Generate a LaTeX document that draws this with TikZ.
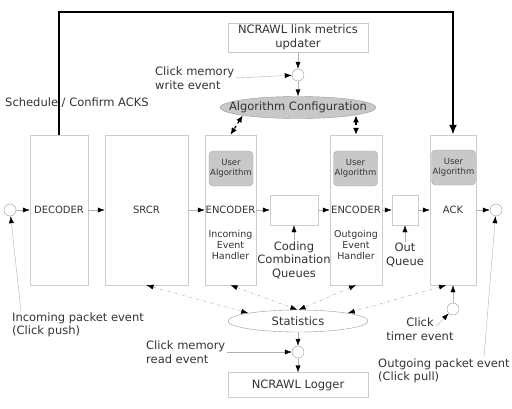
\documentclass[tikz,border=0pt]{standalone}
\usepackage{fontspec}
\setmainfont{DejaVu Sans}
\usetikzlibrary{arrows.meta,shapes.geometric,calc}
\definecolor{boxline}{HTML}{CCCCCC}
\definecolor{algfill}{HTML}{C8C8C8}
\definecolor{txt}{HTML}{333333}
\tikzset{
	blk/.style={draw=boxline, fill=white, inner sep=0pt, text=txt, font=\fontsize{10}{12}\selectfont},
	ualg/.style={draw=gray!70, fill=algfill, rounded corners=4pt, minimum width=44pt, minimum height=35pt, inner sep=0pt, align=center, text=txt, font=\fontsize{8.5}{10}\selectfont},
	evt/.style={circle, draw=gray!80, fill=white, minimum size=12pt, inner sep=0pt},
	lbl/.style={text=txt, inner sep=1pt, font=\fontsize{11.5}{13.5}\selectfont},
	hdl/.style={text=txt, align=center, inner sep=0pt, font=\fontsize{9.5}{11}\selectfont},
	flow/.style={draw=gray!60, -{Latex[length=7pt,width=5pt,color=black]}},
	cfg/.style={line width=1.2pt, dashed, {Latex[length=7pt,width=6pt]}-{Latex[length=7pt,width=6pt]}},
	stat/.style={draw=gray!70, dash dot, {Latex[length=7pt,width=5pt,color=black]}-{Latex[length=7pt,width=5pt,color=black]}},
}

\begin{document}
\begin{tikzpicture}[x=1pt,y=-1pt]
			%%%%% START %%%%%
			\useasboundingbox (0,0) rectangle (512,408);
			
			\node[blk, minimum width=58pt, minimum height=150pt] (dec) at (59,210) {DECODER};
			\node[blk, minimum width=83pt, minimum height=150pt] (srcr) at (146.5,210) {SRCR};
			\node[blk, minimum width=51pt, minimum height=150pt] (enc1) at (230.5,210) {ENCODER};
			\node[blk, minimum width=48pt, minimum height=30pt] (cq) at (294,210) {};
			\node[blk, minimum width=52pt, minimum height=150pt] (enc2) at (356,210) {ENCODER};
			\node[blk, minimum width=26pt, minimum height=30pt] (oq) at (405,210) {};
			\node[blk, minimum width=46pt, minimum height=150pt] (ack) at (453,210) {ACK};
			
			\node[ualg] (ua1) at (231,168.5) {User\\Algorithm};
			\node[ualg] (ua2) at (355.5,168.5) {User\\Algorithm};
			\node[ualg] (ua3) at (453.5,167.5) {User\\Algorithm};
			
			\node[hdl] (h1) at (230.5,245) {Incoming\\Event\\Handler};
			\node[hdl] (h2) at (356,245) {Outgoing\\Event\\Handler};
			\node[lbl, align=center] (cqlbl) at (294,260) {Coding\\Combination\\Queues};
			\node[lbl, align=center] (oqlbl) at (405,255) {Out\\Queue};
			
			\node[blk, lbl, draw=boxline, inner sep=0pt, minimum width=140pt, minimum height=29pt, align=center] (upd) at (298,37.5) {NCRAWL link metrics\\updater};
			\node[blk, lbl, draw=boxline, inner sep=0pt, minimum width=140pt, minimum height=25pt] (logger) at (298,385) {NCRAWL Logger};
			
			\node[ellipse, draw=gray!80, fill=algfill, minimum width=156pt, minimum height=22pt, inner sep=0pt] (algo) at (298,107.5) {};
			\node[lbl] (algotxt) at (algo) {Algorithm Configuration};
			\node[ellipse, draw=gray!80, fill=white, minimum width=140pt, minimum height=22pt, inner sep=0pt, lbl] (stats) at (298,321) {Statistics};
			
			\node[evt] (cin) at (10,210) {};
			\node[evt] (cout) at (496,210) {};
			\node[evt] (cwrite) at (298,75) {};
			\node[evt] (cread) at (298,352) {};
			\node[evt] (ctimer) at (453,309) {};
			
			\node[lbl] (sched) at (77,103) {Schedule / Confirm ACKS};
			\node[lbl, align=left, anchor=west] (wlbl) at (154,78) {Click memory\\write event};
			\node[lbl, align=left, anchor=west] (inlbl) at (11,325) {Incoming packet event\\(Click push)};
			\node[lbl, align=left, anchor=west] (rlbl) at (145,352) {Click memory\\read event};
			\node[lbl, align=center] (tlbl) at (420,329) {Click\\timer event};
			\node[lbl, align=left, anchor=west] (outlbl) at (377,371) {Outgoing packet event\\(Click pull)};
			
			% packet path
			\draw[flow] (cin) -- (dec);
			\draw[flow] (dec) -- (srcr);
			\draw[flow] (srcr) -- (enc1);
			\draw[flow] (enc1) -- (cq);
			\draw[flow] (cq) -- (enc2);
			\draw[flow] (enc2) -- (oq);
			\draw[flow] (oq) -- (ack);
			\draw[flow] (ack) -- (cout);
			\draw[flow] (cqlbl) -- (cq);
			\draw[flow] (oqlbl) -- (oq);
			
			\draw[line width=2.5pt, -{Latex[length=10pt,width=8pt]}] (dec.north) -- ++(0,-123) -| (ack.north);
			
			% events
			\draw[flow] (upd) -- (cwrite);
			\draw[flow] (cwrite) -- (algo);
			\draw[flow] (wlbl.east) -- (cwrite);
			\draw[flow] (stats) -- (cread);
			\draw[flow] (cread) -- (logger);
			\draw[flow] (rlbl.east) -- (cread);
			\draw[flow] ([xshift=10pt]inlbl.north west) -- (cin);
			\draw[flow] ([xshift=-27pt]outlbl.north east) -- (cout);
			\draw[flow] ($(tlbl.north)+(16,10)$) -- (ctimer);
			\draw[flow] (ctimer) -- (ack.south);
			
			\draw[cfg] (algo.south west) -- (enc1.north);
			\draw[cfg] (enc2.north |- algo.south east) -- (enc2.north);
			
			\draw[stat] (srcr.south) -- (stats.171);
			\draw[stat] (enc1.south) -- (stats.93);
			\draw[stat] (enc2.south) -- (stats.87);
			\draw[stat] ([xshift=-7pt]ack.south) -- (stats.9);
			%%%%% END %%%%%
\end{tikzpicture}
\end{document}
